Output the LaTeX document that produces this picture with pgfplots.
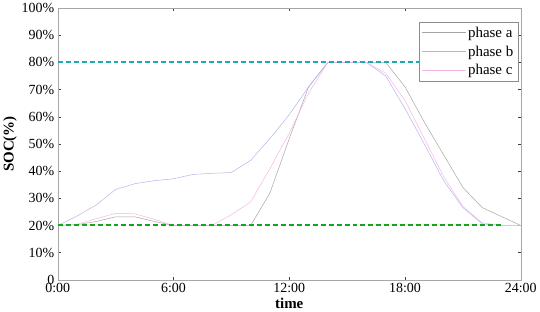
\documentclass[border=0pt]{standalone}
\usepackage{pgfplots}
\pgfplotsset{compat=1.18}
\usepackage{fontspec}
\setmainfont{Liberation Serif}
\definecolor{phA}{RGB}{165,165,165}
\definecolor{phB}{RGB}{180,180,235}
\definecolor{phC}{RGB}{245,180,232}
\definecolor{limUp}{RGB}{25,170,180}
\definecolor{limLo}{RGB}{20,165,30}
\begin{document}
\begin{tikzpicture}
\begin{axis}[
  scale only axis,width=465pt,height=273pt,
  xmin=0,xmax=24,ymin=0,ymax=100,
  xtick={0,6,12,18,24},xticklabels={0:00,6:00,12:00,18:00,24:00},
  ytick={0,10,...,100},
  yticklabels={0,10\%,20\%,30\%,40\%,50\%,60\%,70\%,80\%,90\%,100\%},
  tick align=inside,major tick length=3pt,
  axis line style={black!35},every tick/.style={black!75,line width=0.5pt},
  tick label style={font=\fontsize{14}{16}\selectfont},
  label style={font=\fontsize{15}{17}\selectfont\bfseries},
  xlabel={time},ylabel={SOC(\%)},
  xlabel style={yshift=2pt},ylabel style={yshift=-2pt},
  legend style={at={(0.995,0.95)},anchor=north east,draw=black!45,fill=white,
    font=\fontsize{15}{17}\selectfont,row sep=3pt,inner sep=3pt},
  legend cell align=left,
  legend image code/.code={\draw[#1] (0pt,0pt) -- (44pt,0pt);},
]
\addplot[color=phA,line width=0.5pt] coordinates {(0,20) (1,20.3) (2,21.5) (3,23.2) (4,23.2) (5,21.5) (6,20) (7,20) (8,20) (9,20) (10,20) (11,32) (12,52) (13,71) (14,80) (15,80) (16,80) (17,80) (18,71) (19,58) (20,46) (21,34) (22,26.6) (23,23.3) (24,20)};
\addlegendentry{phase a}
\addplot[color=phB,line width=0.5pt] coordinates {(0,20) (1,23.5) (2,27.6) (3,33.3) (4,35.4) (5,36.5) (6,37.2) (7,38.8) (8,39.2) (9,39.5) (10,44) (11,52) (12,60.8) (13,71) (14,80) (15,80) (16,80) (17,75) (18,63) (19,50) (20,36.5) (21,26.6) (22,20.6) (23,20) (24,20)};
\addlegendentry{phase b}
\addplot[color=phC,line width=0.5pt] coordinates {(0,20) (1,20.5) (2,22.5) (3,24.5) (4,24.3) (5,22.3) (6,20) (7,20) (8,20) (9,24) (10,28.7) (11,41) (12,54) (13,68.7) (14,80) (15,80) (16,80) (17,76) (18,66) (19,52) (20,38) (21,27) (22,21) (23,20) (24,20)};
\addlegendentry{phase c}
\addplot[color=limUp,line width=2pt,dash pattern=on 5pt off 3pt,forget plot] coordinates {(0,80) (23,80)};
\addplot[color=limLo,line width=2pt,dash pattern=on 5pt off 3pt,forget plot] coordinates {(0,20.05) (23,20.05)};
\end{axis}
\end{tikzpicture}
\end{document}
